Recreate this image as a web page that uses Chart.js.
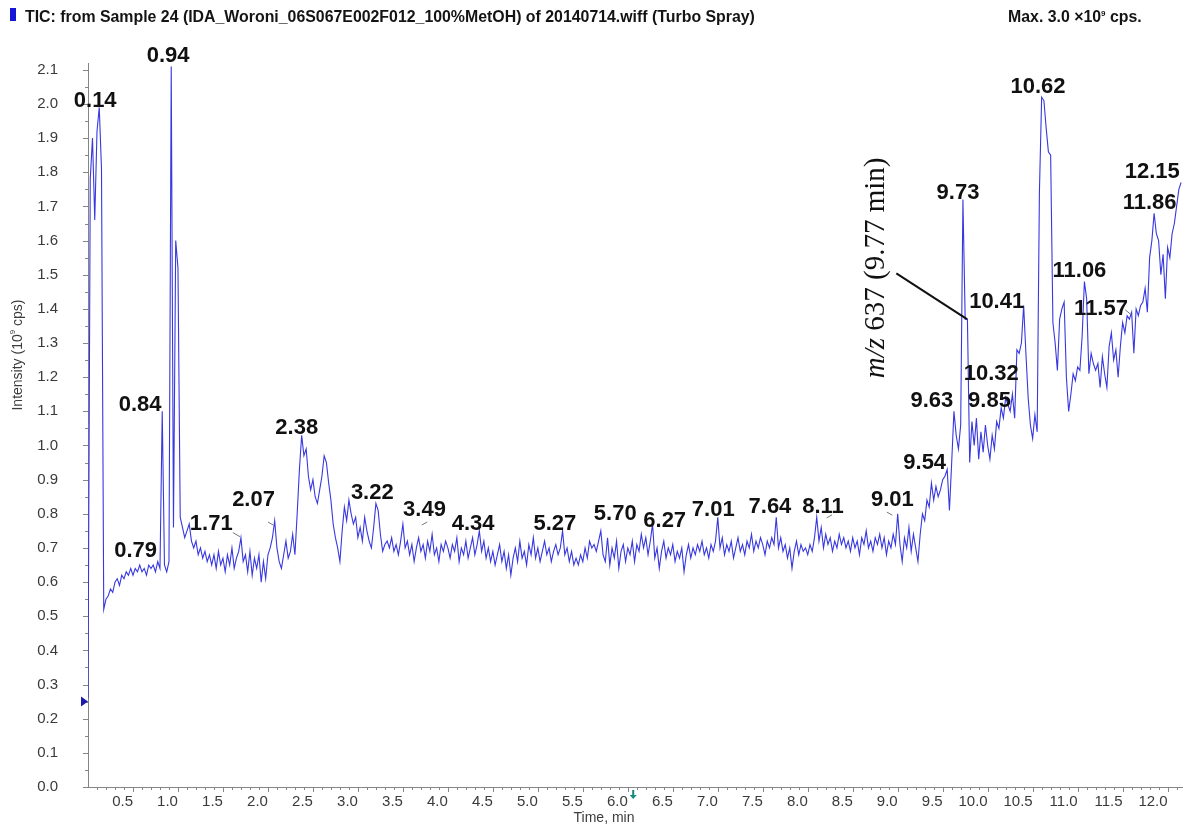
<!DOCTYPE html>
<html>
<head>
<meta charset="utf-8">
<script src="https://cdn.jsdelivr.net/npm/chart.js@4.4.1/dist/chart.umd.min.js"></script>
<style>
  html, body { margin: 0; padding: 0; background: #ffffff; }
  canvas { display: block; }
</style>
</head>
<body>
<canvas id="tic" width="1191" height="829"></canvas>
<script>
// Total ion chromatogram, one reading per scan cycle (minutes, 10^9 cps)
const scanStart = 0;
const scanStep = 0.025;
const intensity = [
  0.26, 1.78, 1.90, 1.66, 1.92, 1.99, 1.81, 0.52, 0.55, 0.56, 0.58, 0.57, 0.60, 0.61, 0.59, 0.62, 0.61, 0.63, 0.62, 0.64,
  0.62, 0.64, 0.63, 0.65, 0.63, 0.64, 0.62, 0.65, 0.64, 0.65, 0.63, 0.66, 0.64, 1.10, 0.65, 0.63, 0.66, 2.11, 0.76, 1.60,
  1.52, 0.79, 0.76, 0.73, 0.75, 0.77, 0.72, 0.70, 0.72, 0.68, 0.70, 0.67, 0.69, 0.66, 0.68, 0.65, 0.68, 0.64, 0.69, 0.65,
  0.67, 0.63, 0.68, 0.65, 0.70, 0.64, 0.67, 0.69, 0.73, 0.66, 0.68, 0.63, 0.69, 0.62, 0.67, 0.64, 0.68, 0.60, 0.66, 0.61,
  0.68, 0.70, 0.73, 0.78, 0.70, 0.66, 0.64, 0.68, 0.72, 0.67, 0.69, 0.74, 0.68, 0.80, 0.93, 1.03, 0.97, 0.99, 0.91, 0.87,
  0.90, 0.85, 0.83, 0.87, 0.91, 0.97, 0.95, 0.89, 0.84, 0.77, 0.73, 0.70, 0.66, 0.75, 0.82, 0.78, 0.84, 0.80, 0.77, 0.79,
  0.73, 0.76, 0.72, 0.79, 0.75, 0.72, 0.70, 0.76, 0.83, 0.81, 0.74, 0.69, 0.71, 0.72, 0.70, 0.73, 0.69, 0.71, 0.68, 0.72,
  0.77, 0.70, 0.72, 0.68, 0.71, 0.66, 0.70, 0.73, 0.69, 0.71, 0.67, 0.72, 0.69, 0.74, 0.68, 0.70, 0.66, 0.71, 0.69, 0.72,
  0.70, 0.67, 0.71, 0.69, 0.73, 0.66, 0.70, 0.68, 0.72, 0.67, 0.70, 0.73, 0.68, 0.71, 0.75, 0.69, 0.72, 0.67, 0.70, 0.66,
  0.69, 0.65, 0.68, 0.71, 0.66, 0.69, 0.64, 0.68, 0.62, 0.67, 0.70, 0.66, 0.72, 0.67, 0.69, 0.65, 0.71, 0.68, 0.73, 0.67,
  0.70, 0.66, 0.69, 0.72, 0.68, 0.70, 0.66, 0.69, 0.71, 0.68, 0.70, 0.75, 0.68, 0.70, 0.66, 0.69, 0.65, 0.67, 0.65, 0.68,
  0.66, 0.70, 0.67, 0.72, 0.70, 0.71, 0.69, 0.72, 0.75, 0.68, 0.66, 0.73, 0.65, 0.70, 0.67, 0.72, 0.64, 0.69, 0.71, 0.66,
  0.70, 0.68, 0.72, 0.66, 0.71, 0.69, 0.74, 0.70, 0.73, 0.68, 0.72, 0.77, 0.67, 0.70, 0.64, 0.69, 0.72, 0.67, 0.70, 0.68,
  0.71, 0.66, 0.69, 0.67, 0.70, 0.63, 0.68, 0.71, 0.67, 0.70, 0.68, 0.71, 0.69, 0.72, 0.68, 0.70, 0.67, 0.71, 0.69, 0.72,
  0.79, 0.70, 0.73, 0.68, 0.71, 0.69, 0.72, 0.67, 0.70, 0.73, 0.69, 0.71, 0.68, 0.72, 0.70, 0.74, 0.69, 0.72, 0.70, 0.73,
  0.71, 0.68, 0.72, 0.70, 0.73, 0.71, 0.79, 0.70, 0.73, 0.69, 0.71, 0.67, 0.70, 0.64, 0.69, 0.72, 0.68, 0.71, 0.69, 0.70,
  0.68, 0.71, 0.69, 0.73, 0.79, 0.72, 0.76, 0.70, 0.74, 0.71, 0.73, 0.69, 0.72, 0.70, 0.74, 0.71, 0.73, 0.70, 0.72, 0.69,
  0.73, 0.70, 0.72, 0.68, 0.73, 0.71, 0.75, 0.70, 0.72, 0.69, 0.73, 0.71, 0.74, 0.70, 0.73, 0.68, 0.72, 0.70, 0.74, 0.71,
  0.80, 0.71, 0.66, 0.73, 0.70, 0.76, 0.69, 0.74, 0.70, 0.66, 0.74, 0.80, 0.78, 0.84, 0.82, 0.89, 0.84, 0.88, 0.85, 0.87,
  0.90, 0.91, 0.93, 0.81, 0.95, 1.10, 1.03, 0.99, 1.06, 1.72, 1.37, 1.37, 0.95, 1.07, 1.00, 1.08, 0.96, 1.04, 0.98, 1.06,
  1.00, 0.96, 1.03, 0.99, 1.07, 1.05, 1.11, 1.08, 1.14, 1.12, 1.10, 1.15, 1.08, 1.28, 1.27, 1.30, 1.41, 1.27, 1.14, 1.06,
  1.02, 1.09, 1.04, 1.74, 2.02, 2.01, 1.93, 1.86, 1.85, 1.36, 1.30, 1.22, 1.37, 1.40, 1.42, 1.20, 1.10, 1.15, 1.21, 1.19,
  1.23, 1.22, 1.32, 1.48, 1.43, 1.21, 1.27, 1.24, 1.22, 1.24, 1.17, 1.26, 1.21, 1.17, 1.29, 1.33, 1.25, 1.28, 1.20, 1.29,
  1.36, 1.33, 1.38, 1.37, 1.39, 1.27, 1.40, 1.38, 1.41, 1.42, 1.46, 1.39, 1.55, 1.60, 1.68, 1.62, 1.60, 1.50, 1.56, 1.43,
  1.58, 1.55, 1.62, 1.65, 1.70, 1.75, 1.77
];

// Axis ticks
const xTickValues = [0.5, 1.0, 1.5, 2.0, 2.5, 3.0, 3.5, 4.0, 4.5, 5.0, 5.5, 6.0,
                     6.5, 7.0, 7.5, 8.0, 8.5, 9.0, 9.5, 10.0, 10.5, 11.0, 11.5, 12.0];
const xTickLabels = xTickValues.map(v => v.toFixed(1));
const yTickValues = [0.0, 0.1, 0.2, 0.3, 0.4, 0.5, 0.6, 0.7, 0.8, 0.9, 1.0,
                     1.1, 1.2, 1.3, 1.4, 1.5, 1.6, 1.7, 1.8, 1.9, 2.0, 2.1];
const yTickLabels = yTickValues.map(v => v.toFixed(1));

// Retention-time labels, anchored in (min, 10^9 cps) at the text centre
const peakLabels = ['0.14', '0.94', '0.84', '0.79', '1.71', '2.07', '2.38', '3.22', '3.49', '4.34',
                    '5.27', '5.70', '6.27', '7.01', '7.64', '8.11', '9.01', '9.54', '9.63', '9.85',
                    '10.32', '10.41', '9.73', '10.62', '11.06', '11.57', '11.86', '12.15'];
const peakLabelAnchors = [
  [0.08, 2.01], [0.89, 2.14], [0.58, 1.12], [0.53, 0.69], [1.37, 0.77], [1.84, 0.84],
  [2.32, 1.05], [3.16, 0.86], [3.74, 0.81], [4.28, 0.77], [5.19, 0.77], [5.86, 0.80],
  [6.41, 0.78], [6.95, 0.81], [7.58, 0.82], [8.17, 0.82], [8.94, 0.84], [9.30, 0.95],
  [9.38, 1.13], [10.02, 1.13], [10.04, 1.21], [10.10, 1.42], [9.67, 1.74], [10.56, 2.05],
  [11.02, 1.51], [11.26, 1.40], [11.80, 1.71], [11.83, 1.80]
];
// Short pointer strokes from a label to its peak: [t1, v1, t2, v2]
const leaderStrokes = [
  [1.61, 0.745, 1.69, 0.733], [2.00, 0.776, 2.06, 0.767], [3.71, 0.767, 3.77, 0.776],
  [8.21, 0.788, 8.27, 0.797], [8.88, 0.805, 8.94, 0.796], [11.53, 1.397, 11.60, 1.382]
];

const headerTitle = 'TIC: from Sample 24 (IDA_Woroni_06S067E002F012_100%MetOH) of 20140714.wiff (Turbo Spray)';
const FONT = '"Liberation Sans", Arial, Helvetica, sans-serif';
const SERIF = '"Liberation Serif", "Times New Roman", serif';

const points = intensity.map((v, i) => ({ x: scanStart + i * scanStep, y: v }));

function drawParts(ctx, parts, x, y) {
  // parts: [text, font, dy]
  let cx = x;
  for (const [text, font, dy] of parts) {
    ctx.font = font;
    ctx.fillText(text, cx, y + dy);
    cx += ctx.measureText(text).width;
  }
}
function partsWidth(ctx, parts) {
  let w = 0;
  for (const [text, font] of parts) { ctx.font = font; w += ctx.measureText(text).width; }
  return w;
}

const decor = {
  id: 'decor',
  afterDraw(chart) {
    const ctx = chart.ctx;
    const xs = chart.scales.x, ys = chart.scales.y;
    const area = chart.chartArea;
    ctx.save();

    // header
    ctx.fillStyle = '#1616d6';
    ctx.fillRect(10, 8, 6, 13);
    ctx.fillStyle = '#141414';
    ctx.textAlign = 'left';
    ctx.textBaseline = 'alphabetic';
    ctx.font = 'bold 14px ' + FONT;
    const hw = ctx.measureText(headerTitle).width;
    const hs = 14 * 730 / hw;
    ctx.font = 'bold ' + hs.toFixed(2) + 'px ' + FONT;
    ctx.fillText(headerTitle, 25, 22);
    drawParts(ctx, [
      ['Max. 3.0 \u00d710', 'bold ' + hs.toFixed(2) + 'px ' + FONT, 0],
      ['9', 'bold 8px ' + FONT, -6],
      [' cps.', 'bold ' + hs.toFixed(2) + 'px ' + FONT, 0]
    ], 1008, 22);

    // tick marks
    ctx.strokeStyle = '#858585';
    ctx.lineWidth = 1;
    ctx.beginPath();
    for (let k = 0; k <= 42; k++) {
      const py = Math.round(ys.getPixelForValue(k * 0.05)) + 0.5;
      const len = k % 2 === 0 ? 5 : 3;
      ctx.moveTo(area.left - len, py);
      ctx.lineTo(area.left, py);
    }
    for (let k = 1; k <= 121; k++) {
      const px = Math.round(xs.getPixelForValue(k * 0.1)) + 0.5;
      const len = k % 5 === 0 ? 5 : 3;
      ctx.moveTo(px, area.bottom);
      ctx.lineTo(px, area.bottom + len);
    }
    ctx.stroke();

    // axis titles
    ctx.fillStyle = '#3c3c3c';
    ctx.textBaseline = 'middle';
    ctx.textAlign = 'center';
    ctx.font = '14px ' + FONT;
    ctx.fillText('Time, min', 604, 818);
    ctx.save();
    ctx.translate(18, 355);
    ctx.rotate(-Math.PI / 2);
    ctx.textAlign = 'left';
    const yt = [['Intensity (10', '14px ' + FONT, 0], ['9', '8px ' + FONT, -5], [' cps)', '14px ' + FONT, 0]];
    drawParts(ctx, yt, -partsWidth(ctx, yt) / 2, 0);
    ctx.restore();

    // start marker on the intensity axis
    const my = ys.getPixelForValue(0.25);
    ctx.fillStyle = '#1c1caa';
    ctx.beginPath();
    ctx.moveTo(area.left - 7, my - 5);
    ctx.lineTo(area.left, my);
    ctx.lineTo(area.left - 7, my + 5);
    ctx.closePath();
    ctx.fill();

    // current-time arrow below the time axis
    const ax = xs.getPixelForValue(6.06);
    ctx.fillStyle = '#178a7c';
    ctx.fillRect(ax - 1, area.bottom + 3, 2, 6);
    ctx.beginPath();
    ctx.moveTo(ax - 3.5, area.bottom + 8);
    ctx.lineTo(ax + 3.5, area.bottom + 8);
    ctx.lineTo(ax, area.bottom + 12);
    ctx.closePath();
    ctx.fill();

    // leader strokes
    ctx.strokeStyle = '#777777';
    ctx.lineWidth = 1;
    ctx.beginPath();
    for (const [t1, v1, t2, v2] of leaderStrokes) {
      ctx.moveTo(xs.getPixelForValue(t1), ys.getPixelForValue(v1));
      ctx.lineTo(xs.getPixelForValue(t2), ys.getPixelForValue(v2));
    }
    ctx.stroke();

    // retention-time labels
    ctx.fillStyle = '#111111';
    ctx.textAlign = 'center';
    ctx.textBaseline = 'middle';
    ctx.font = 'bold 22px ' + FONT;
    peakLabels.forEach((txt, i) => {
      const [t, v] = peakLabelAnchors[i];
      ctx.fillText(txt, xs.getPixelForValue(t), ys.getPixelForValue(v));
    });

    // m/z 637 callout
    ctx.strokeStyle = '#111111';
    ctx.lineWidth = 2;
    ctx.beginPath();
    ctx.moveTo(xs.getPixelForValue(8.985), ys.getPixelForValue(1.504));
    ctx.lineTo(xs.getPixelForValue(9.77), ys.getPixelForValue(1.37));
    ctx.stroke();
    ctx.save();
    ctx.translate(xs.getPixelForValue(8.76), ys.getPixelForValue(1.52));
    ctx.rotate(-Math.PI / 2);
    ctx.textAlign = 'left';
    ctx.textBaseline = 'middle';
    ctx.fillStyle = '#111111';
    const mz = [['m/z', 'italic 29px ' + SERIF, 0], [' 637 (9.77 min)', '29px ' + SERIF, 0]];
    drawParts(ctx, mz, -partsWidth(ctx, mz) / 2, 0);
    ctx.restore();

    ctx.restore();
  }
};

new Chart(document.getElementById('tic').getContext('2d'), {
  type: 'line',
  data: {
    datasets: [{
      data: points,
      borderColor: 'rgb(56,56,224)',
      borderWidth: 1.1,
      pointRadius: 0,
      tension: 0,
      fill: false
    }]
  },
  options: {
    responsive: false,
    animation: false,
    devicePixelRatio: 1,
    layout: { padding: { left: 0, right: 9, top: 63, bottom: 0 } },
    plugins: { legend: { display: false }, tooltip: { enabled: false } },
    scales: {
      x: {
        type: 'linear',
        min: 0,
        max: 12.16,
        grid: { display: false, drawTicks: false, tickLength: 0 },
        border: { display: true, color: '#858585', width: 1 },
        afterBuildTicks: s => { s.ticks = xTickValues.map(v => ({ value: v })); },
        afterFit: s => { s.height = 42; },
        ticks: {
          callback: (v, i) => xTickLabels[i],
          font: { family: FONT, size: 15 },
          color: '#3a3a3a',
          maxRotation: 0,
          autoSkip: false,
          align: 'end',
          padding: 6
        }
      },
      y: {
        type: 'linear',
        min: 0,
        max: 2.12,
        grid: { display: false, drawTicks: false, tickLength: 0 },
        border: { display: true, color: '#858585', width: 1 },
        afterBuildTicks: s => { s.ticks = yTickValues.map(v => ({ value: v })); },
        afterFit: s => { s.width = 88; },
        ticks: {
          callback: (v, i) => yTickLabels[i],
          font: { family: FONT, size: 15 },
          color: '#3a3a3a',
          padding: 30
        }
      }
    }
  },
  plugins: [decor]
});
</script>
</body>
</html>
